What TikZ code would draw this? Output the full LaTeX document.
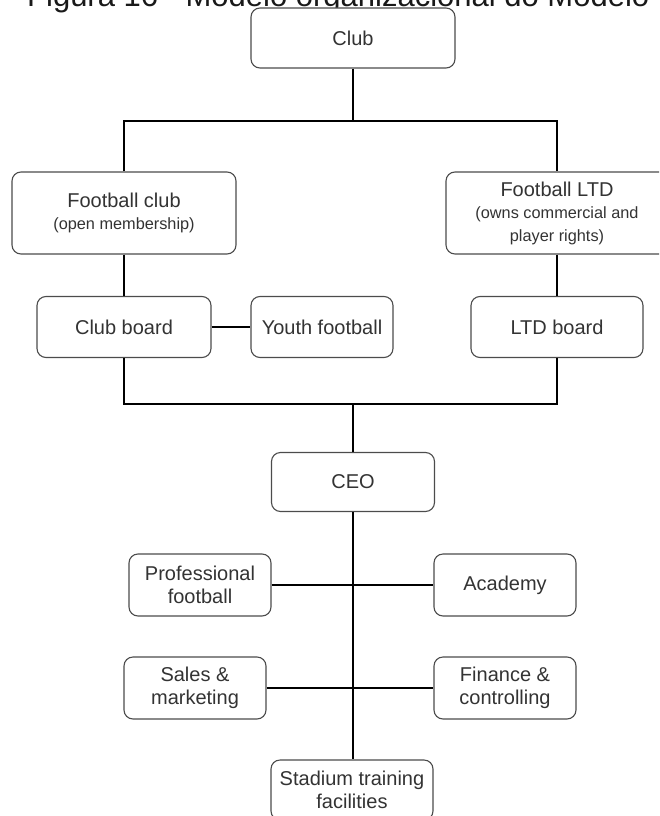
\documentclass[tikz,border=0pt]{standalone}
\usepackage{fontspec}
\setmainfont{Liberation Sans}
\begin{document}
\begin{tikzpicture}[x=1pt,y=-1pt,
  orgbox/.style={draw=black!70, line width=1.1pt, rounded corners=9pt, fill=white,
    text=black!80, align=center, inner sep=0pt, font=\fontsize{20}{23.5}\selectfont},
  link/.style={draw=black, line width=2pt}]
\newcommand{\subline}{\fontsize{16.3}{23}\selectfont}
\useasboundingbox (0,0) rectangle (659,816);
\clip (0,0) rectangle (659,816);

% heading, running off the top edge
\node[anchor=base west, inner sep=0pt, text=black!90, font=\fontsize{31}{34}\selectfont]
  (title) at (27,7) {Figura 16 - Modelo organizacional do Modelo FA};

% top level
\node[orgbox, minimum width=204pt, minimum height=60pt] (club) at (353,38) {Club};
\coordinate (top) at (353,121);

\node[orgbox, minimum width=224pt, minimum height=82pt] (fclub) at (124,213)
  {Football club\\[-1pt]{\subline (open membership)}};
\node[orgbox, minimum width=222pt, minimum height=82pt] (fltd) at (557,213)
  {Football LTD\\[-1pt]{\subline (owns commercial and}\\[-1pt]{\subline player rights)}};

% boards
\node[orgbox, minimum width=174pt, minimum height=61pt] (cboard) at (124,327) {Club board};
\node[orgbox, minimum width=142pt, minimum height=61pt] (youth) at (322,327) {Youth football};
\node[orgbox, minimum width=172pt, minimum height=61pt] (lboard) at (557,327) {LTD board};
\coordinate (mid) at (353,404);

% management
\node[orgbox, minimum width=163pt, minimum height=59pt] (ceo) at (353,482) {CEO};
\node[orgbox, minimum width=142pt, minimum height=62pt] (pro) at (200,585) {Professional\\football};
\node[orgbox, minimum width=142pt, minimum height=62pt] (acad) at (505,585) {Academy};
\node[orgbox, minimum width=142pt, minimum height=62pt] (sales) at (195,688) {Sales \&\\marketing};
\node[orgbox, minimum width=142pt, minimum height=62pt] (fin) at (505,688) {Finance \&\\controlling};
\node[orgbox, minimum width=162pt, minimum height=60pt] (stad) at (352,790) {Stadium training\\facilities};

% connectors
\draw[link] (club.south) -- (top);
\draw[link] (fclub.north) -- (fclub.north |- top) -- (fltd.north |- top) -- (fltd.north);
\draw[link] (fclub.south) -- (cboard.north);
\draw[link] (cboard.east) -- (youth.west);
\draw[link] (fltd.south) -- (lboard.north);
\draw[link] (cboard.south) -- (cboard.south |- mid) -- (lboard.south |- mid) -- (lboard.south);
\draw[link] (mid) -- (ceo.north);
\draw[link] (ceo.south) -- (ceo.south |- stad.north);
\draw[link] (pro.east) -- (acad.west);
\draw[link] (sales.east) -- (fin.west);
\end{tikzpicture}
\end{document}
